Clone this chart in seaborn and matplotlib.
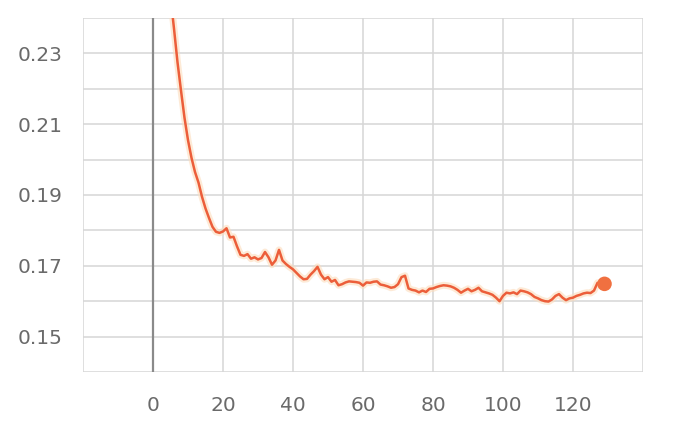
import numpy as np
import pandas as pd
import matplotlib
matplotlib.use("Agg")
import matplotlib.pyplot as plt
import seaborn as sns

# lectura aproximada de la curva (step, valor suavizado)
steps = [4, 5, 6, 7, 8, 9, 10, 11, 12, 13, 14, 15, 16, 17, 18, 19,
         20, 21, 22, 23, 24, 25, 26, 27, 28, 29, 30, 31, 32, 33, 34, 35,
         36, 37, 38, 39, 40, 41, 42, 43, 44, 45, 46, 47, 48, 49, 50, 51,
         52, 53, 54, 55, 56, 57, 58, 59, 60, 61, 62, 63, 64, 65, 66, 67,
         68, 69, 70, 71, 72, 73, 74, 75, 76, 77, 78, 79, 80, 81, 82, 83,
         84, 85, 86, 87, 88, 89, 90, 91, 92, 93, 94, 95, 96, 97, 98, 99,
         100, 101, 102, 103, 104, 105, 106, 107, 108, 109, 110, 111, 112,
         113, 114, 115, 116, 117, 118, 119, 120, 121, 122, 123, 124, 125,
         126, 127, 128, 129]
valores = [0.255, 0.246, 0.237, 0.2275, 0.2195, 0.2118, 0.2055, 0.2005,
           0.1965, 0.1935, 0.1895, 0.1862, 0.1835, 0.1810, 0.1796, 0.1793,
           0.1797, 0.1806, 0.1780, 0.1782, 0.1755, 0.1731, 0.1728, 0.1733,
           0.1720, 0.1724, 0.1718, 0.1722, 0.1739, 0.1724, 0.1703, 0.1715,
           0.1745, 0.1715, 0.1705, 0.1697, 0.1690, 0.1680, 0.1670, 0.1662,
           0.1663, 0.1675, 0.1685, 0.1697, 0.1675, 0.1662, 0.1668, 0.1655,
           0.1660, 0.1645, 0.1648, 0.1653, 0.1656, 0.1655, 0.1654, 0.1652,
           0.1644, 0.1653, 0.1652, 0.1655, 0.1656, 0.1647, 0.1645, 0.1642,
           0.1638, 0.1640, 0.1648, 0.1668, 0.1672, 0.1636, 0.1632, 0.1630,
           0.1625, 0.1630, 0.1626, 0.1635, 0.1636, 0.1640, 0.1643, 0.1645,
           0.1644, 0.1642, 0.1638, 0.1632, 0.1624, 0.1630, 0.1635, 0.1628,
           0.1632, 0.1638, 0.1628, 0.1625, 0.1622, 0.1618, 0.1610, 0.1600,
           0.1615, 0.1624, 0.1622, 0.1625, 0.1620, 0.1630, 0.1628, 0.1625,
           0.1620, 0.1612, 0.1608, 0.1603, 0.1600, 0.1599, 0.1605, 0.1615,
           0.1620, 0.1610, 0.1603, 0.1608, 0.1610, 0.1615, 0.1618, 0.1622,
           0.1624, 0.1623, 0.1630, 0.1652, 0.1648, 0.1649]

x_ticks = [-20, 0, 20, 40, 60, 80, 100, 120, 140]
x_labels = ["", "0", "20", "40", "60", "80", "100", "120", ""]
y_ticks = [0.14, 0.15, 0.16, 0.17, 0.18, 0.19, 0.20, 0.21, 0.22, 0.23, 0.24]
y_labels = ["", "0.15", "", "0.17", "", "0.19", "", "0.21", "", "0.23", ""]

df = pd.DataFrame({"step": steps, "valor": valores})

sns.set_style("white")
plt.rcParams['font.family'] = ['DejaVu Sans']

fig = plt.figure(figsize=(6.79, 4.24), dpi=100)
ax = fig.add_axes([83/679, 1 - 372/424, 560/679, 354/424])

color_linea = "#ec5e3a"

# halo claro detras de la linea
sns.lineplot(data=df, x="step", y="valor", ax=ax, color="#fcdcbc",
             linewidth=5, alpha=0.6, zorder=2)
sns.lineplot(data=df, x="step", y="valor", ax=ax, color=color_linea,
             linewidth=1.8, zorder=3)
ultimo = df.iloc[[-1]]
sns.scatterplot(data=ultimo, x="step", y="valor", ax=ax, color="#f07040",
                s=110, edgecolor="none", zorder=4)

ax.set_xlim(-20, 140)
ax.set_ylim(0.14, 0.24)
ax.set_xticks(x_ticks)
ax.set_xticklabels(x_labels)
ax.set_yticks(y_ticks)
ax.set_yticklabels(y_labels)
ax.set_xlabel("")
ax.set_ylabel("")

ax.grid(True, color="#d6d6d6", linewidth=1.1)
ax.axvline(0, color="#8a8a8a", linewidth=1.6, zorder=1)
for s in ax.spines.values():
    s.set_visible(False)

ax.tick_params(axis="both", colors="#dadada", length=8, width=1.1,
               labelcolor="#6a6a6a", labelsize=14.5)
ax.tick_params(axis="x", pad=9)
ax.tick_params(axis="y", pad=7)

fig.savefig("out.png", dpi=100)
